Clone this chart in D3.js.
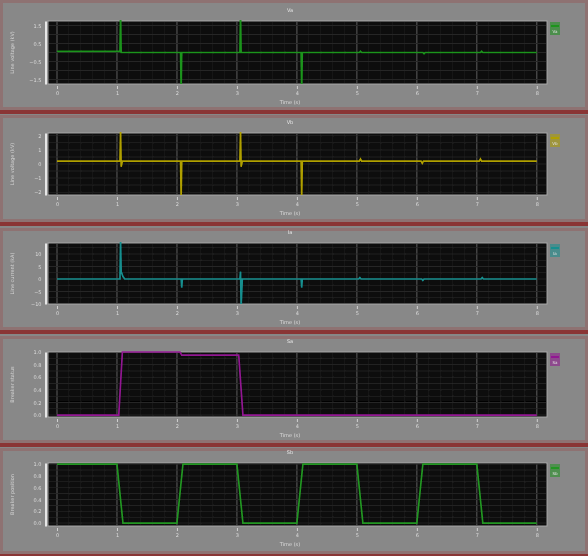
<!DOCTYPE html>
<html>
<head>
<meta charset="utf-8">
<script src="https://cdn.jsdelivr.net/npm/d3@7"></script>
<style>
  body { margin: 0; background: #878787; }
  text { font-family: "DejaVu Sans", sans-serif; }
</style>
</head>
<body>
<div id="chart"></div>
<script>
// ---- data ----
const timeTicks = [0, 1, 2, 3, 4, 5, 6, 7, 8];
const panelTitles = ["Va", "Vb", "Ia", "Sa", "Sb"];
const yLabels = ["Line voltage (kV)", "Line voltage (kV)", "Line current (kA)", "Breaker status", "Breaker position"];
const legendNames = ["Va", "Vb", "Ia", "Sa", "Sb"];

const vaTicks = [-1.5, -0.5, 0.5, 1.5];
const vbTicks = [-2, -1, 0, 1, 2];
const iaTicks = [-10, -5, 0, 5, 10];
const saTicks = [0, 0.2, 0.4, 0.6, 0.8, 1];
const sbTicks = [0, 0.2, 0.4, 0.6, 0.8, 1];

const vaTime   = [0, 1.05, 1.06, 1.07, 2.06, 2.07, 2.08, 3.05, 3.06, 3.07, 4.07, 4.08, 4.09, 5.04, 5.06, 5.08, 6.1, 6.12, 6.14, 7.06, 7.08, 7.1, 8];
const vaValues = [0.06, 0.06, 2.2, 0, 0, -2.2, 0, 0, 2.2, 0, 0, -2.2, 0, 0, 0.07, 0, 0, -0.07, 0, 0, 0.07, 0, 0];

const vbTime   = [0, 1.05, 1.06, 1.07, 1.09, 2.06, 2.07, 2.08, 3.05, 3.06, 3.07, 3.09, 4.07, 4.08, 4.09, 5.04, 5.06, 5.08, 6.07, 6.09, 6.11, 7.04, 7.06, 7.08, 8];
const vbValues = [0.2, 0.2, 2.4, -0.2, 0.2, 0.2, -2.4, 0.2, 0.2, 2.4, -0.2, 0.2, 0.2, -2.4, 0.2, 0.2, 0.35, 0.2, 0.2, 0.05, 0.2, 0.2, 0.35, 0.2, 0.2];

const iaTime   = [0, 1.05, 1.06, 1.07, 1.1, 1.13, 2.07, 2.08, 2.09, 3.05, 3.06, 3.07, 3.09, 4.07, 4.08, 4.09, 5.03, 5.05, 5.07, 6.08, 6.1, 6.12, 7.07, 7.09, 7.11, 8];
const iaValues = [0, 0, 16, 3, 1, 0, 0, -3.5, 0, 0, 3, -11, 0, 0, -3.5, 0, 0, 0.6, 0, 0, -0.6, 0, 0, 0.6, 0, 0];

const saTime   = [0, 1.03, 1.09, 2.05, 2.08, 3.03, 3.1, 8];
const saValues = [0, 0, 1, 1, 0.95, 0.95, 0, 0];

const sbTime   = [0, 1.0, 1.1, 2.0, 2.1, 3.0, 3.1, 4.0, 4.1, 5.0, 5.1, 6.0, 6.1, 7.0, 7.1, 8];
const sbValues = [1, 1, 0, 0, 1, 1, 0, 0, 1, 1, 0, 0, 1, 1, 0, 0];

// ---- layout ----
const W = 588, H = 556;
const panelTop = [0, 115, 228, 336, 448];
const panelBottom = [110, 222, 330, 443, 554];
const plotTop = [21, 133, 243, 352, 463];
const plotBottom = [84, 195, 304, 417, 526];
const plotLeft = 48, plotRight = 547;

const panels = [
  { time: vaTime, values: vaValues, ticks: vaTicks, domain: [-1.75, 1.75], color: "#1c941c", fmt: d3.format(".1f") },
  { time: vbTime, values: vbValues, ticks: vbTicks, domain: [-2.2, 2.2], color: "#b0a000", fmt: d3.format("d") },
  { time: iaTime, values: iaValues, ticks: iaTicks, domain: [-10, 14.4], color: "#168f8f", fmt: d3.format("d") },
  { time: saTime, values: saValues, ticks: saTicks, domain: [-0.03, 1.0], color: "#921892", fmt: d3.format(".1f") },
  { time: sbTime, values: sbValues, ticks: sbTicks, domain: [-0.05, 1.02], color: "#229622", fmt: d3.format(".1f") }
];

const svg = d3.select("#chart").append("svg")
  .attr("width", W)
  .attr("height", H);

// the source is a soft, slightly blurred screenshot
svg.append("defs").append("filter")
    .attr("id", "soft")
    .attr("x", 0).attr("y", 0).attr("width", 1).attr("height", 1)
  .append("feGaussianBlur")
    .attr("stdDeviation", 0.6);

const root = svg.append("g").attr("filter", "url(#soft)");

root.append("rect")
  .attr("width", W).attr("height", H)
  .attr("fill", "#878787");

const x = d3.scaleLinear()
  .domain([-0.15, 8.17])
  .range([plotLeft, plotRight]);

const minorTimes = d3.range(0, 8.01, 0.2);

panels.forEach((p, i) => {
  const g = root.append("g").attr("class", "panel");

  // panel frame
  g.append("rect")
    .attr("x", 1.5).attr("y", panelTop[i] + 1.5)
    .attr("width", W - 3).attr("height", panelBottom[i] - panelTop[i] - 3)
    .attr("fill", "#888888")
    .attr("stroke", "#8e7272")
    .attr("stroke-width", 3);

  // separator under each panel
  g.append("rect")
    .attr("x", 0).attr("y", panelBottom[i])
    .attr("width", W).attr("height", 4)
    .attr("fill", "#8a3535");

  const y = d3.scaleLinear()
    .domain(p.domain)
    .range([plotBottom[i], plotTop[i]]);

  // plot background
  g.append("rect")
    .attr("x", plotLeft).attr("y", plotTop[i])
    .attr("width", plotRight - plotLeft).attr("height", plotBottom[i] - plotTop[i])
    .attr("fill", "#070707")
    .attr("stroke", "#a8a8a8")
    .attr("stroke-width", 1);

  // grid
  g.append("g").selectAll("line")
    .data(minorTimes).enter()
    .append("line")
      .attr("x1", d => x(d)).attr("x2", d => x(d))
      .attr("y1", plotTop[i] + 1).attr("y2", plotBottom[i] - 1)
      .attr("stroke", d => Math.abs(d - Math.round(d)) < 1e-6 ? "#555555" : "#1e1e1e")
      .attr("stroke-width", d => Math.abs(d - Math.round(d)) < 1e-6 ? 1.2 : 1);

  const step = p.ticks[1] - p.ticks[0];
  const hGrid = d3.range(p.ticks[0] - step, p.ticks[p.ticks.length - 1] + step * 1.01, step / 2)
    .filter(v => v > p.domain[0] && v < p.domain[1]);
  g.append("g").selectAll("line")
    .data(hGrid).enter()
    .append("line")
      .attr("x1", plotLeft + 1).attr("x2", plotRight - 1)
      .attr("y1", d => y(d)).attr("y2", d => y(d))
      .attr("stroke", "#262626");

  // series line
  const clipId = "clip" + i;
  g.append("clipPath").attr("id", clipId)
    .append("rect")
      .attr("x", plotLeft).attr("y", plotTop[i] - 1)
      .attr("width", plotRight - plotLeft).attr("height", plotBottom[i] - plotTop[i] + 1);

  const line = d3.line()
    .x(d => x(d[0]))
    .y(d => y(d[1]));

  g.append("path")
    .datum(p.time.map((t, k) => [t, p.values[k]]))
    .attr("clip-path", `url(#${clipId})`)
    .attr("fill", "none")
    .attr("stroke", p.color)
    .attr("stroke-width", 1.7)
    .attr("d", line);

  // y axis
  const yAxis = g.append("g")
    .attr("transform", `translate(45.5,0)`)
    .call(d3.axisLeft(y).tickValues(p.ticks).tickSize(0).tickPadding(4).tickFormat(p.fmt));
  yAxis.select(".domain").attr("stroke", "#e6e6e6").attr("stroke-width", 2);
  yAxis.selectAll("text").attr("fill", "#dcdcdc").style("font-size", "5px");

  // x axis
  const xAxis = g.append("g")
    .attr("transform", `translate(0,${plotBottom[i] + 2})`)
    .call(d3.axisBottom(x).tickValues(timeTicks).tickSize(3).tickPadding(2).tickFormat(d3.format("d")));
  xAxis.select(".domain").remove();
  xAxis.selectAll("line").attr("stroke", "#d0d0d0");
  xAxis.selectAll("text").attr("fill", "#dcdcdc").style("font-size", "5px");

  g.append("text")
    .attr("x", 290).attr("y", plotBottom[i] + 20)
    .attr("text-anchor", "middle")
    .attr("fill", "#dcdcdc")
    .style("font-size", "5px")
    .text("Time (s)");

  // title
  g.append("text")
    .attr("x", 290).attr("y", plotTop[i] - 9)
    .attr("text-anchor", "middle")
    .attr("fill", "#e8e8e8")
    .style("font-size", "5px")
    .text(panelTitles[i]);

  // y label
  const midY = (plotTop[i] + plotBottom[i]) / 2;
  g.append("text")
    .attr("transform", `translate(14,${midY}) rotate(-90)`)
    .attr("text-anchor", "middle")
    .attr("fill", "#d4d4d4")
    .style("font-size", "5px")
    .text(yLabels[i]);

  // legend swatch
  g.append("rect")
    .attr("x", 550).attr("y", plotTop[i] + 1)
    .attr("width", 10).attr("height", 13)
    .attr("fill", p.color)
    .attr("opacity", 0.55);
  g.append("line")
    .attr("x1", 551).attr("x2", 559)
    .attr("y1", plotTop[i] + 5).attr("y2", plotTop[i] + 5)
    .attr("stroke", p.color)
    .attr("stroke-width", 2);
  g.append("text")
    .attr("x", 555).attr("y", plotTop[i] + 12)
    .attr("text-anchor", "middle")
    .attr("fill", "#e0e0e0")
    .style("font-size", "4px")
    .text(legendNames[i]);
});
</script>
</body>
</html>
